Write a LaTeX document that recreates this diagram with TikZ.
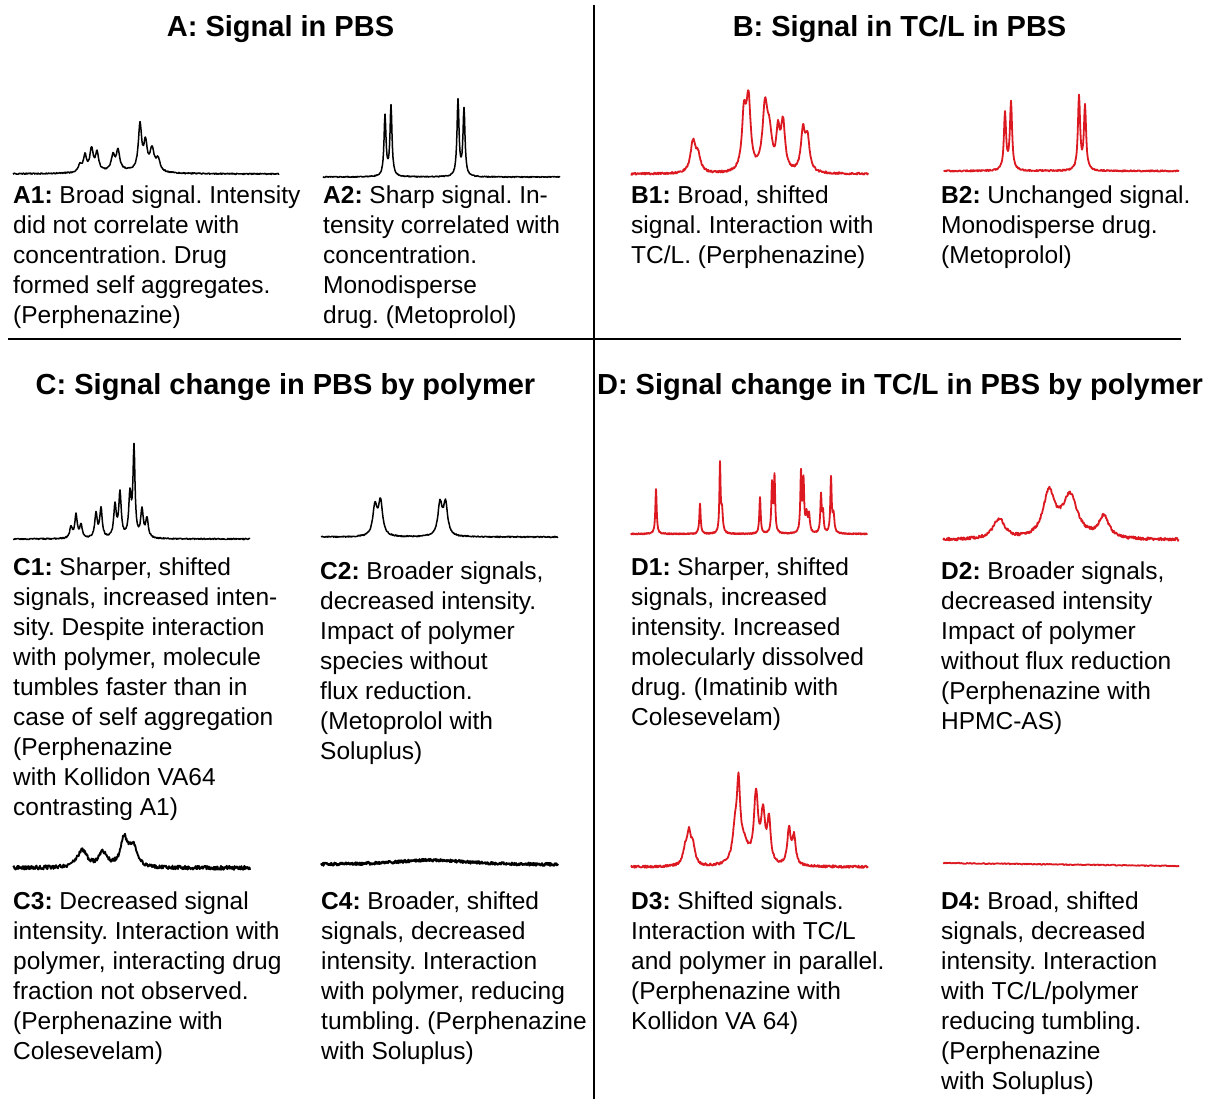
\documentclass[tikz,border=0pt]{standalone}
\usepackage{fontspec}
\setmainfont{Liberation Sans}
\definecolor{nmrred}{RGB}{220,24,32}
\newcommand\bodyfont{\fontsize{24.5}{30}\selectfont}
\newcommand\headfont{\fontsize{29}{34}\selectfont\bfseries}
\tikzset{
  spec/.style={line width=1.5pt, line join=round},
  redspec/.style={spec, draw=nmrred, line width=1.8pt},
  note/.style={anchor=north west, align=left, inner sep=0pt, font=\bodyfont},
  head/.style={anchor=base, inner sep=0pt, font=\headfont},
  divider/.style={line width=1.5pt}
}
\pgfmathsetseed{7}
\frenchspacing

\begin{document}
\begin{tikzpicture}[x=1pt, y=-1pt,
  declare function={lz(\xx,\cc,\ww)=1/(1+min(abs((\xx-\cc)/\ww),100)^2);}]
\useasboundingbox (0,0) rectangle (1208,1099);

\draw[divider] (594,5) -- (594,1099);
\draw[divider] (8,339) -- (1181,339);

\node[head] (hA) at (280.5,37) {A: Signal in PBS};
\node[head] (hB) at (899.5,37) {B: Signal in TC/L in PBS};
\node[head] (hC) at (285.5,395) {C: Signal change in PBS by polymer};
\node[head] (hD) at (900,395) {D: Signal change in TC/L in PBS by polymer};

% A1, A2
\draw[spec] plot[domain=13:279, samples=533] (\x, {174 - 7*lz(\x,80,2) - 16*lz(\x,85,2) - 22*lz(\x,91.5,2) - 18*lz(\x,97,2)
  - 15*lz(\x,113,2) - 20*lz(\x,118,2) - 46*lz(\x,140,2) - 27*lz(\x,145.5,2) - 22*lz(\x,152,2.5) - 12*lz(\x,158,2.5)
  - 3*lz(\x,120,25) - 1.2*(rnd-0.5)});
\draw[spec] plot[domain=323:560, samples=475] (\x, {177 - 60*lz(\x,385,1.2) - 70*lz(\x,391,1.2) - 76*lz(\x,458,1.2)
  - 67*lz(\x,464,1.2) - 1.0*(rnd-0.5)});

% B1, B2
\draw[redspec] plot[domain=631:868, samples=475] (\x, {174 - 30*lz(\x,693,3) - 16*lz(\x,698,3) - 55*lz(\x,744,2.5)
  - 68*lz(\x,748.5,2.5) - 62*lz(\x,765,3) - 32*lz(\x,769.5,3) - 36*lz(\x,778,2) - 48*lz(\x,783,2.5)
  - 40*lz(\x,803,2.5) - 32*lz(\x,807.5,2.5) - 2.0*(rnd-0.5)});
\draw[redspec] plot[domain=944:1179, samples=471] (\x, {171 - 57*lz(\x,1005,1.3) - 68*lz(\x,1011,1.3)
  - 74*lz(\x,1079,1.3) - 64*lz(\x,1085,1.3) - 1.4*(rnd-0.5)});

% C1, C2
\draw[spec] plot[domain=13:250, samples=475] (\x, {539 - 11*lz(\x,71,1.5) - 23*lz(\x,76,1.5) - 13*lz(\x,81,1.5)
  - 24*lz(\x,96,1.5) - 29*lz(\x,101,1.5) - 32*lz(\x,115,1.5) - 44*lz(\x,120,1.5) - 42*lz(\x,130,1.5)
  - 88*lz(\x,134,1.2) - 28*lz(\x,142,1.5) - 19*lz(\x,147,1.5) - 1.2*(rnd-0.5)});
\draw[spec] plot[domain=321:558, samples=475] (\x, {537 - 30*lz(\x,375,2.5) - 34*lz(\x,380.5,2.5)
  - 32*lz(\x,440,2.5) - 32*lz(\x,445.5,2.5) - 1.2*(rnd-0.5)});

% D1, D2
\draw[redspec] plot[domain=631:867, samples=945] (\x, {534 - 45*lz(\x,656,0.8) - 30*lz(\x,700,0.8) - 68*lz(\x,720,0.7)
  - 22*lz(\x,722,1) - 37*lz(\x,760,0.8) - 48*lz(\x,772,0.8) - 56*lz(\x,774.5,0.8) - 60*lz(\x,801,0.8)
  - 50*lz(\x,803.5,0.8) - 18*lz(\x,806.5,1) - 18*lz(\x,809,1) - 38*lz(\x,821,0.8) - 20*lz(\x,823,0.8)
  - 55*lz(\x,831,0.8) - 18*lz(\x,833.5,1) - 1.2*(rnd-0.5)});
\draw[redspec] plot[domain=943:1179, samples=473] (\x, {540 - 20*lz(\x,999,7) - 45*lz(\x,1049,7) - 42*lz(\x,1070,9)
  - 22*lz(\x,1104,6) - 3.0*(rnd-0.5)});

% C3, C4
\draw[spec, line width=1.9pt] plot[domain=13:250, samples=475] (\x, {868 - 17*lz(\x,82,6) - 14*lz(\x,103,5)
  - 28*lz(\x,124,4) - 20*lz(\x,133,5) - 4.0*(rnd-0.5)});
\draw[spec, line width=2.2pt] plot[domain=321:558, samples=475] (\x, {865 - 5*lz(\x,431,45) - 2.8*(rnd-0.5)});

% D3, D4
\draw[redspec] plot[domain=631:868, samples=475] (\x, {867 - 14*lz(\x,685,2.5) - 30*lz(\x,689,2.5) - 16*lz(\x,693,2.5)
  - 30*lz(\x,735,3) - 70*lz(\x,738.5,2) - 20*lz(\x,744,5) - 68*lz(\x,756,2.5) - 48*lz(\x,763,2.5)
  - 42*lz(\x,769,2) - 36*lz(\x,789,2) - 28*lz(\x,794,2) - 2.4*(rnd-0.5)});
\draw[redspec] plot[domain=943:1179, samples=237] (\x, {863 + 3*(\x-943)/236 - 1.0*(rnd-0.5)});

\node[note] (tA1) at (13,186) {\textbf{A1:} Broad signal. Intensity\\did not correlate with\\concentration. Drug\\formed self aggregates.\\(Perphenazine)};
\node[note] (tA2) at (323,186) {\textbf{A2:} Sharp signal. In-\\tensity correlated with\\concentration.\\Monodisperse\\drug. (Metoprolol)};
\node[note] (tB1) at (631,186) {\textbf{B1:} Broad, shifted\\signal. Interaction with\\TC/L. (Perphenazine)};
\node[note] (tB2) at (941,186) {\textbf{B2:} Unchanged signal.\\Monodisperse drug.\\(Metoprolol)};

\node[note] (tC1) at (13,558) {\textbf{C1:} Sharper, shifted\\signals, increased inten-\\sity. Despite interaction\\with polymer, molecule\\tumbles faster than in\\case of self aggregation\\(Perphenazine\\with Kollidon VA64\\contrasting A1)};
\node[note] (tC2) at (320,562) {\textbf{C2:} Broader signals,\\decreased intensity.\\Impact of polymer\\species without\\flux reduction.\\(Metoprolol with\\Soluplus)};
\node[note] (tD1) at (631,558) {\textbf{D1:} Sharper, shifted\\signals, increased\\intensity. Increased\\molecularly dissolved\\drug. (Imatinib with\\Colesevelam)};
\node[note] (tD2) at (941,562) {\textbf{D2:} Broader signals,\\decreased intensity\\Impact of polymer\\without flux reduction\\(Perphenazine with\\HPMC-AS)};

\node[note] (tC3) at (13,892) {\textbf{C3:} Decreased signal\\intensity. Interaction with\\polymer, interacting drug\\fraction not observed.\\(Perphenazine with\\Colesevelam)};
\node[note] (tC4) at (321,892) {\textbf{C4:} Broader, shifted\\signals, decreased\\intensity. Interaction\\with polymer, reducing\\tumbling. (Perphenazine\\with Soluplus)};
\node[note] (tD3) at (631,892) {\textbf{D3:} Shifted signals.\\Interaction with TC/L\\and polymer in parallel.\\(Perphenazine with\\Kollidon VA 64)};
\node[note] (tD4) at (941,892) {\textbf{D4:} Broad, shifted\\signals, decreased\\intensity. Interaction\\with TC/L/polymer\\reducing tumbling.\\(Perphenazine\\with Soluplus)};
\end{tikzpicture}
\end{document}
